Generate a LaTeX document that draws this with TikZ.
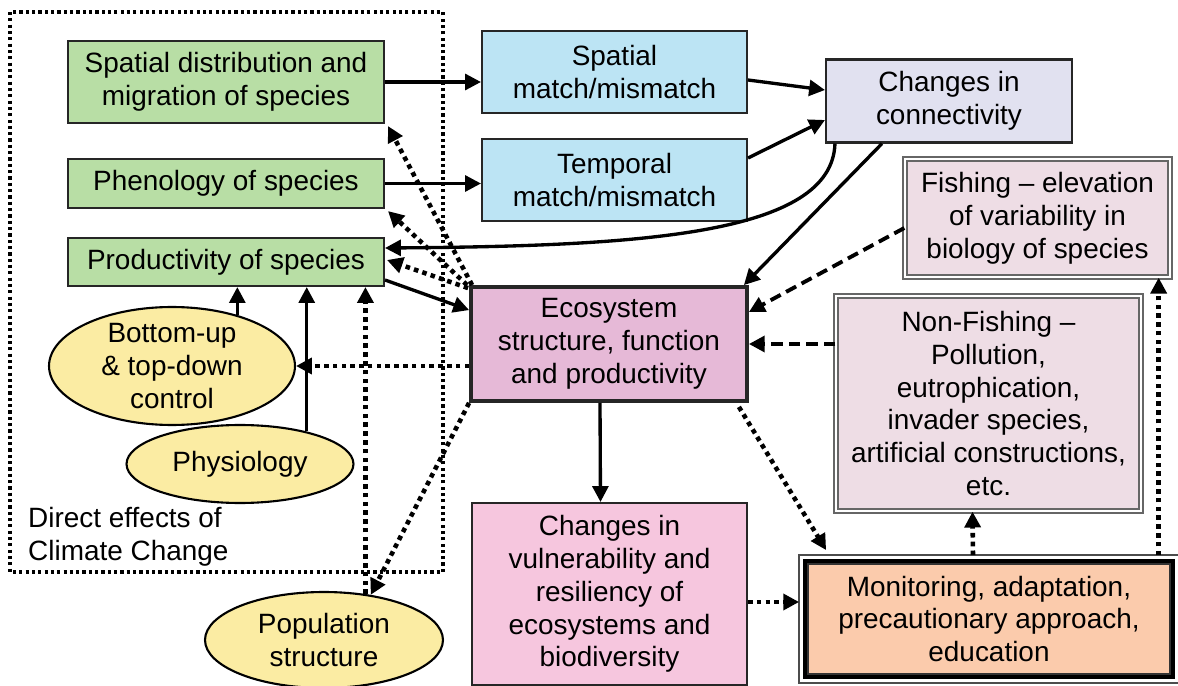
\documentclass[tikz,border=0pt]{standalone}
\usepackage{fontspec}
\setmainfont{Liberation Sans}
\usetikzlibrary{calc,arrows.meta,shapes.geometric}

\definecolor{gruen}{RGB}{184,222,165}
\definecolor{hellblau}{RGB}{188,228,244}
\definecolor{lavendel}{RGB}{225,225,240}
\definecolor{altrosa}{RGB}{238,221,229}
\definecolor{orchidee}{RGB}{230,185,215}
\definecolor{vulnrosa}{RGB}{246,198,222}
\definecolor{pfirsich}{RGB}{251,203,172}
\definecolor{gelb}{RGB}{251,236,163}

\begin{document}
\begin{tikzpicture}[x=0.02cm, y=-0.02cm,
  every node/.style={font=\fontsize{15.9}{18.7}\selectfont},
  box/.style={draw=black!85, line width=1.2pt, inner sep=0pt, align=center},
  doppelbox/.style={draw=black!60, line width=0.8pt, double=white, double distance=1.6pt, inner sep=0pt, align=center, fill=altrosa},
  oval/.style={ellipse, draw=black, line width=1.2pt, fill=gelb, inner xsep=0pt, inner ysep=-4pt, align=center},
  pfeil/.style={-{Triangle[length=9pt,width=9pt]}, line width=1.9pt},
  punktpfeil/.style={pfeil, line width=2.6pt, dash pattern=on 2.6pt off 2.4pt},
  strichpfeil/.style={pfeil, line width=2.2pt, dash pattern=on 6.5pt off 3.5pt}]

  \useasboundingbox (0,0) rectangle (1178,686);

  %--- Rahmen: direkte Effekte
  \draw[line width=1.8pt, dash pattern=on 1.8pt off 1.8pt] (10,12) rectangle (443,572);
  \node[anchor=west, align=left] (direkt) at (22,537) {Direct effects of\\Climate Change};

  %--- Arten (gruen)
  \node[box, fill=gruen, minimum width=6.32cm, minimum height=1.64cm] (sd) at (226,82)
    {Spatial distribution and\\migration of species};
  \node[box, fill=gruen, minimum width=6.32cm, minimum height=0.98cm] (ph) at (226,183.5)
    {Phenology of species};
  \node[box, fill=gruen, minimum width=6.32cm, minimum height=0.96cm] (prod) at (226,262)
    {Productivity of species};

  %--- match/mismatch (blau)
  \node[box, fill=hellblau, minimum width=5.3cm, minimum height=1.64cm] (sm) at (614.5,72)
    {Spatial\\match/mismatch};
  \node[box, fill=hellblau, minimum width=5.3cm, minimum height=1.64cm] (tm) at (614.5,180)
    {Temporal\\match/mismatch};
  \node[box, fill=lavendel, minimum width=4.92cm, minimum height=1.66cm] (conn) at (949,101)
    {Changes in\\connectivity};

  %--- Einfluesse rechts
  \node[doppelbox, minimum width=5.3cm, minimum height=2.36cm] (fish) at (1037.5,218)
    {Fishing -- elevation\\of variability in\\biology of species};
  \node[doppelbox, minimum width=6.1cm, minimum height=4.3cm] (nf) at (988.5,403.5)
    {Non-Fishing --\\Pollution,\\eutrophication,\\invader species,\\artificial constructions,\\etc.};

  %--- Oekosystem
  \node[box, fill=orchidee, line width=2.2pt, minimum width=5.52cm, minimum height=2.28cm] (eco) at (609,344)
    {Ecosystem\\structure, function\\and productivity};
  \node[box, fill=vulnrosa, minimum width=5.5cm, minimum height=3.64cm] (vul) at (609.5,594)
    {Changes in\\vulnerability and\\resiliency of\\ecosystems and\\biodiversity};

  % Monitoring mit Dreifachrahmen
  \node[box, fill=pfirsich, draw=black, line width=2.2pt, minimum width=7.36cm, minimum height=2.32cm] (mon) at (989,619)
    {Monitoring, adaptation,\\precautionary approach,\\education};
  \draw[black!70, line width=0.7pt] ($(mon.north west)+(-4,-4)$) rectangle ($(mon.south east)+(4,4)$);
  \draw[black!80, line width=0.7pt] ($(mon.north west)+(5,5)$) rectangle ($(mon.south east)+(-5,-5)$);

  %--- Ellipsen
  \node[oval, minimum width=4.92cm, minimum height=2.36cm] (bu) at (172,366)
    {Bottom-up\\\& top-down\\control};
  \node[oval, minimum width=4.54cm, minimum height=1.56cm] (phys) at (240,464) {Physiology};
  \node[oval, minimum width=4.76cm, minimum height=1.92cm] (pop) at (324,640)
    {Population\\structure};

  %--- Pfeile (durchgezogen)
  \draw[pfeil] (sd.east) -- (sd.east -| sm.west);
  \draw[pfeil] (ph.east) -- (ph.east -| tm.west);
  \draw[pfeil] ($(sm.east)+(0,8)$) -- ($(conn.west)+(0,-11)$);
  \draw[pfeil] ($(tm.east)+(0,-22)$) -- ($(conn.west)+(0,19)$);
  \draw[pfeil] ($(conn.south west)+(10,0)$) .. controls (832,235) and (640,246) .. ($(prod.east)+(0,-14)$);
  \draw[pfeil] ($(conn.south)+(-67,0)$) -- ($(eco.north east)+(-5,0)$);
  \draw[pfeil] ($(prod.east)+(0,18)$) -- ($(eco.north west)+(0,25)$);
  \draw[pfeil] ($(eco.south)+(-9,0)$) -- ($(vul.north)+(-9,0)$);
  \draw[pfeil] (bu.38) -- (bu.38 |- prod.south);
  \draw[pfeil] (phys.26) -- (phys.26 |- prod.south);

  %--- gestrichelt
  \draw[strichpfeil] ($(fish.west)+(0,10)$) -- ($(eco.east)+(0,-32)$);
  \draw[strichpfeil] (nf.west |- eco.east) -- (eco.east);

  %--- gepunktet
  \draw[punktpfeil] ($(eco.north west)+(-1,3)$) -- ($(prod.east)+(2,-2)$);
  \draw[punktpfeil] ($(eco.north west)+(-2,0)$) -- ($(ph.south east)+(3,2)$);
  \draw[punktpfeil] ($(eco.north west)+(3,0)$) -- ($(sd.south east)+(3,2)$);
  \draw[punktpfeil] ($(eco.west)+(0,22)$) -- (bu.east);
  \draw[punktpfeil] (eco.south west) -- (pop.44);
  \draw[punktpfeil] (pop.48) -- (pop.48 |- prod.south);
  \draw[punktpfeil] ($(eco.south east)+(-10,4)$) -- ($(mon.north west)+(23,-9)$);
  \draw[punktpfeil] ($(vul.east)+(0,8)$) -- ($(mon.west)+(-4,-17)$);
  \draw[punktpfeil] ($(mon.north)+(-16,-4)$) -- ($(nf.south)+(-16,0)$);
  \coordinate (fishin) at ($(fish.south east)+(-12,0)$);
  \draw[punktpfeil] ($(mon.north -| fishin)+(0,-4)$) -- (fishin);
\end{tikzpicture}
\end{document}
